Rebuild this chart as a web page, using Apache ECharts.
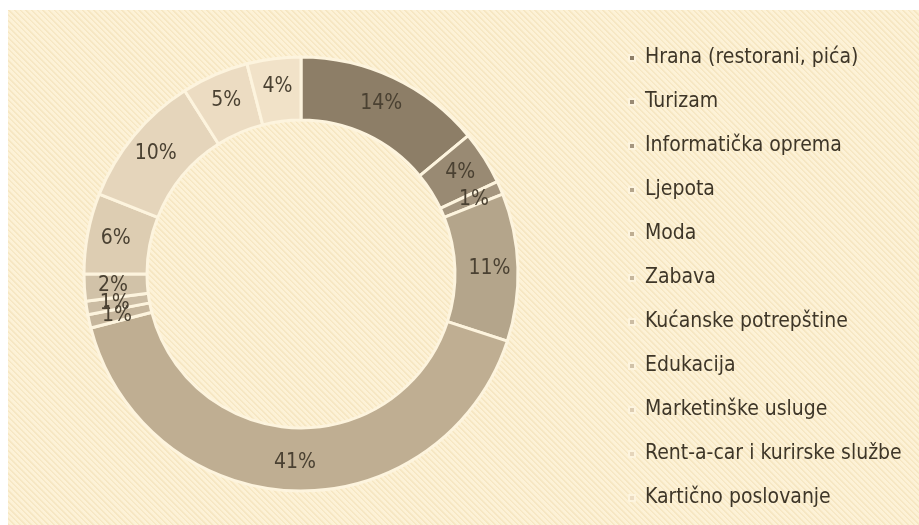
<!DOCTYPE html>
<html>
<head>
<meta charset="utf-8">
<script src="https://cdn.jsdelivr.net/npm/echarts@6/dist/echarts.min.js"></script>
<style>
  html, body { margin: 0; padding: 0; background: #ffffff; }
  #main {
    position: absolute; left: 8px; top: 10px; width: 911px; height: 515px;
    background-color: #fcefd0;
    background-image: repeating-linear-gradient(45deg, rgba(235,215,170,0.35) 0px, rgba(235,215,170,0.35) 1px, rgba(255,250,235,0.25) 2px, rgba(255,250,235,0.25) 4px);
  }
</style>
</head>
<body>
<div id="main"></div>
<script>
// kategorije (legenda) i udjeli u %
var categories = [
  'Hrana (restorani, pića)',
  'Turizam',
  'Informatička oprema',
  'Ljepota',
  'Moda',
  'Zabava',
  'Kućanske potrepštine',
  'Edukacija',
  'Marketinške usluge',
  'Rent-a-car i kurirske službe',
  'Kartično poslovanje',
  'Ostalo'
];
var shares = [14, 4, 1, 11, 41, 1, 1, 2, 6, 10, 5, 4];
var legendNames = categories.slice(0, 11);

var colors = ['#8d7e67', '#998a73', '#a5967f', '#b4a58b', '#bfae92', '#c6b69c',
              '#cbbca3', '#d1c2a8', '#ddcdb2', '#e5d5bb', '#ecdcc2', '#f1e2c8'];

var chart = echarts.init(document.getElementById('main'));
var fontFam = '"Liberation Sans Narrow", "DejaVu Sans Condensed", sans-serif';

var option = {
  color: colors,
  animation: false,
  legend: {
    orient: 'vertical',
    left: 615,
    top: 29,
    data: legendNames,
    icon: 'rect',
    itemWidth: 6,
    itemHeight: 6,
    itemGap: 16,
    textStyle: {
      fontFamily: fontFam,
      fontSize: 21,
      lineHeight: 28,
      color: '#3e3628',
      padding: [0, 0, 0, 5]
    }
  },
  series: [{
    type: 'pie',
    center: [293, 264],
    radius: [154, 217],
    startAngle: 90,
    clockwise: true,
    avoidLabelOverlap: false,
    itemStyle: { borderColor: '#fdf4de', borderWidth: 3 },
    label: {
      position: 'inside',
      formatter: '{c}%',
      fontFamily: fontFam,
      fontSize: 21,
      color: '#4a4132'
    },
    labelLayout: { hideOverlap: false },
    labelLine: { show: false },
    emphasis: { disabled: true },
    data: categories.map(function (n, i) { return { name: n, value: shares[i] }; })
  }]
};
chart.setOption(option);
</script>
</body>
</html>
